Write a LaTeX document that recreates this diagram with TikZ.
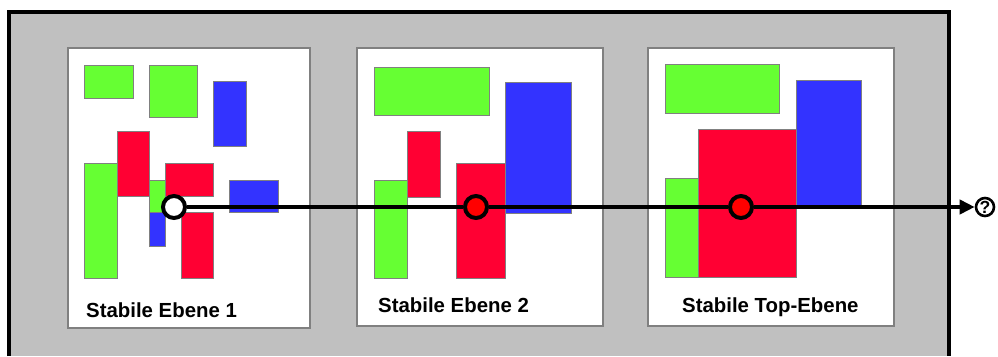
\documentclass[tikz,border=0pt]{standalone}
\usepackage{fontspec}
\setmainfont{Liberation Sans}
\usepackage{tikz}
\usetikzlibrary{arrows.meta}
\definecolor{framegray}{RGB}{192,192,192}
\definecolor{edgegray}{RGB}{128,128,128}
\definecolor{boxgreen}{RGB}{102,255,51}
\definecolor{boxblue}{RGB}{51,51,255}
\definecolor{boxred}{RGB}{255,0,51}
\tikzset{
  level/.style={fill=white,draw=edgegray,line width=1.7pt},
  gbox/.style={fill=boxgreen,draw=edgegray,line width=0.8pt},
  bbox/.style={fill=boxblue,draw=edgegray,line width=0.8pt},
  rbox/.style={fill=boxred,draw=edgegray,line width=0.8pt},
  hit/.style={circle,draw,line width=3.4pt,minimum size=0.66cm,inner sep=0pt},
  levellabel/.style={anchor=base west,inner sep=0pt,font=\fontsize{17.4}{20}\selectfont\bfseries},
  query/.style={circle,draw,line width=2.2pt,minimum size=0.54cm,inner sep=0pt,
    font=\fontsize{15}{17}\selectfont\bfseries},
  ray/.style={line width=4pt,-{Triangle[length=0.45cm,width=0.42cm]}}}

\begin{document}
\begin{tikzpicture}[x=0.03cm,y=-0.03cm]
  \useasboundingbox (0,0) rectangle (998,356);
  % outer frame, open at the bottom
  \fill[framegray] (9,12) rectangle (949,356);
  \draw[line width=2.6pt] (9,356) -- (9,12) -- (949,12) -- (949,356);

  % level 1
  \draw[level] (68,48) rectangle (310,328);
  \draw[gbox] (84,65) rectangle (133,98);
  \draw[gbox] (149,65) rectangle (197,117);
  \draw[bbox] (213,81) rectangle (246,146);
  \draw[rbox] (117,131) rectangle (149,196);
  \draw[gbox] (84,163) rectangle (117,278);
  \draw[gbox] (149,180) rectangle (165,212);
  \draw[bbox] (149,212) rectangle (165,246);
  \draw[rbox] (165,163) rectangle (213,196);
  \draw[rbox] (181,212) rectangle (213,278);
  \draw[bbox] (229,180) rectangle (278,212);
  \node[levellabel] (l1) at (86,317) {Stabile Ebene 1};

  % level 2
  \draw[level] (357,48) rectangle (603,326);
  \draw[gbox] (374,67) rectangle (489,115);
  \draw[bbox] (505,82) rectangle (571,213);
  \draw[rbox] (407,131) rectangle (440,197);
  \draw[gbox] (374,180) rectangle (407,278);
  \draw[rbox] (456,163) rectangle (505,278);
  \node[levellabel] (l2) at (378,312) {Stabile Ebene 2};

  % top level
  \draw[level] (648,48) rectangle (894,326);
  \draw[gbox] (665,64) rectangle (779,113);
  \draw[bbox] (796,80) rectangle (861,207);
  \draw[rbox] (698,129) rectangle (796,277);
  \draw[gbox] (665,178) rectangle (698,277);
  \node[levellabel] (l3) at (682,312) {Stabile Top-Ebene};

  % query ray through the levels
  \node[hit,fill=white] (c1) at (174,207) {};
  \node[hit,fill=red] (c2) at (476,207) {};
  \node[hit,fill=red] (c3) at (741,207) {};
  \node[query] (q) at (985,207) {?};
  \draw[ray] (c1) -- (c2) -- (c3) -- (q);
\end{tikzpicture}
\end{document}
